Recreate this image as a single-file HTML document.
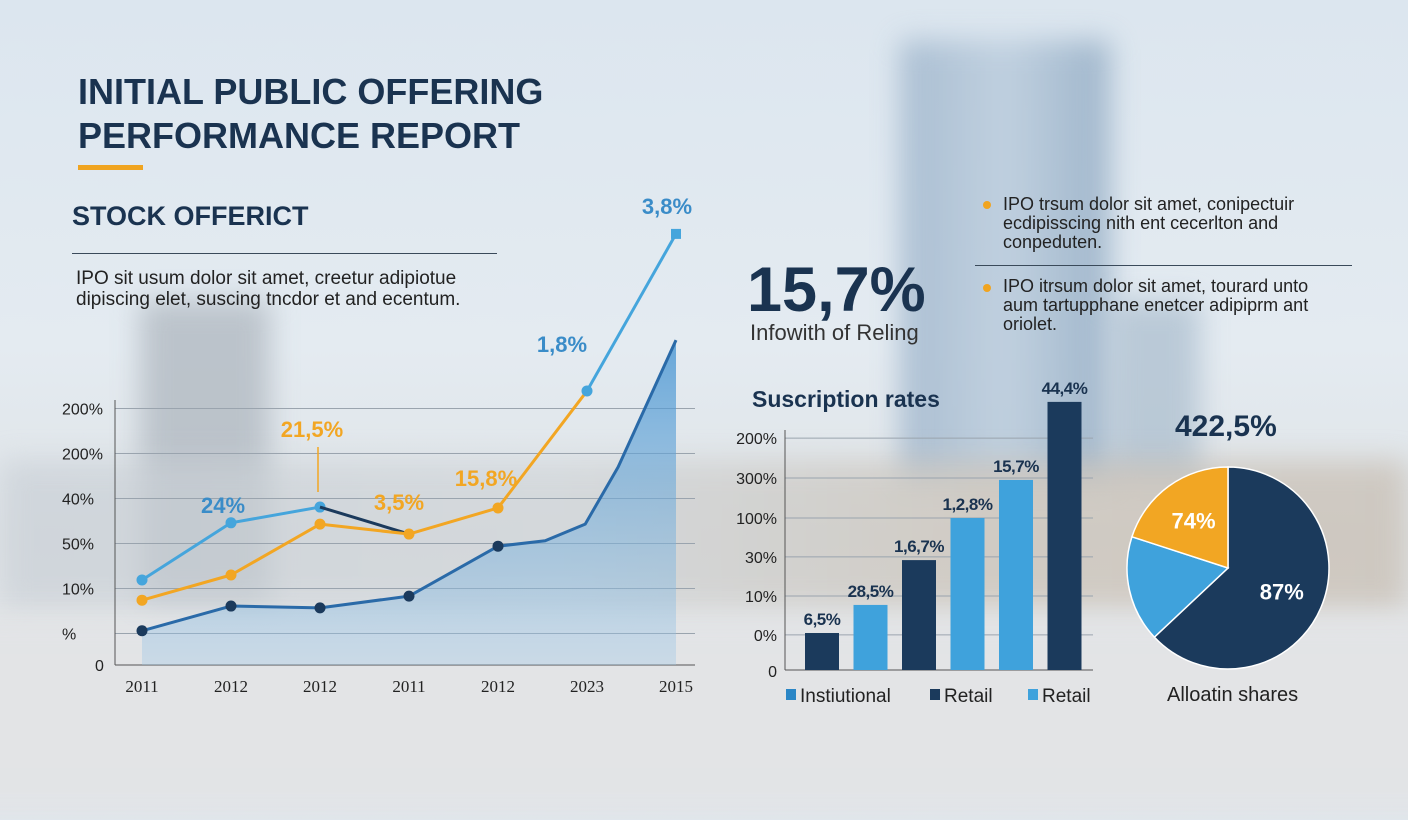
<!DOCTYPE html>
<html><head><meta charset="utf-8">
<style>
html,body{margin:0;padding:0}
body{width:1408px;height:768px;overflow:hidden;position:relative;font-family:"Liberation Sans",sans-serif;background:linear-gradient(180deg,#dce6ef 0%,#e4ebf1 45%,#dfe3e6 70%,#e7e8ea 100%)}
.bg{position:absolute;filter:blur(14px)}
.t{position:absolute;white-space:nowrap}
</style></head><body>
<div class="bg" style="left:900px;top:40px;width:210px;height:440px;background:linear-gradient(90deg,#9db4cb,#b9cbdc 50%,#8fa9c2);opacity:.8"></div>
<div class="bg" style="left:1110px;top:300px;width:90px;height:180px;background:#a9bccd;opacity:.7"></div>
<div class="bg" style="left:140px;top:300px;width:130px;height:300px;background:#b2bac2;opacity:.8"></div>
<div class="bg" style="left:0;top:460px;width:1408px;height:150px;background:linear-gradient(90deg,#c8cfd6,#cfd3d6 40%,#c9bfb2 70%,#c5baad);opacity:.65"></div>
<div class="bg" style="left:-40px;top:620px;width:1488px;height:200px;background:#e3e4e6;opacity:.9"></div>

<div class="t" style="left:78px;top:70px;font-size:36px;font-weight:bold;color:#1a3350;line-height:44px">INITIAL PUBLIC OFFERING<br>PERFORMANCE REPORT</div>
<div style="position:absolute;left:78px;top:165px;width:65px;height:5px;background:#f0a420"></div>
<div class="t" style="left:72px;top:201px;font-size:27px;font-weight:bold;color:#1a3350">STOCK OFFERICT</div>
<div style="position:absolute;left:72px;top:253px;width:425px;height:1px;background:#3a4a5a"></div>
<div class="t" style="left:76px;top:268px;font-size:19px;color:#222;line-height:21px">IPO sit usum dolor sit amet, creetur adipiotue<br>dipiscing elet, suscing tncdor et and ecentum.</div>

<div class="t" style="left:747px;top:254px;font-size:63px;font-weight:bold;color:#1a3350">15,7%</div>
<div class="t" style="left:750px;top:320px;font-size:22px;color:#333">Infowith of Reling</div>

<div style="position:absolute;left:983px;top:201px;width:8px;height:8px;border-radius:50%;background:#f0a420"></div>
<div class="t" style="left:1003px;top:195px;font-size:18px;color:#222;line-height:19px">IPO trsum dolor sit amet, conipectuir<br>ecdipisscing nith ent cecerlton and<br>conpeduten.</div>
<div style="position:absolute;left:975px;top:265px;width:377px;height:1px;background:#3a4a5a"></div>
<div style="position:absolute;left:983px;top:284px;width:8px;height:8px;border-radius:50%;background:#f0a420"></div>
<div class="t" style="left:1003px;top:277px;font-size:18px;color:#222;line-height:19px">IPO itrsum dolor sit amet, tourard unto<br>aum tartupphane enetcer adipiprm ant<br>oriolet.</div>

<div class="t" style="left:752px;top:386px;font-size:23px;font-weight:bold;color:#1a3350">Suscription rates</div>
<div class="t" style="left:1175px;top:410px;font-size:30px;font-weight:bold;color:#1a3350">422,5%</div>
<div class="t" style="left:1167px;top:684px;font-size:20px;color:#222">Alloatin shares</div>

<svg id="chart" width="1408" height="768" style="position:absolute;left:0;top:0"></svg>
<script>
// Line chart data
const lineCats = ["2011","2012","2012","2011","2012","2023","2015"];
const lineTickVals = [7,17,27,37,47,57];
const lineTickLabels = ["%","10%","50%","40%","200%","200%"];
const skyValues = [18.9,31.6,35.1];
const darkSegValues = [35.1,29.1];
const orangeValues = [14.4,20,31.3,29.1,34.9,60.9];
const blueTopValues = [60.9,95.8];
const navyX = [0,1,2,3,4,4.53,4.98,5.35,6];
const navyValues = [7.6,13.1,12.7,15.3,26.4,27.6,31.3,44,72.2];
// Bar chart data
const barVals = [13.7,24.1,40.7,56.3,70.4,99.3];
const barLabels = ["6,5%","28,5%","1,6,7%","1,2,8%","15,7%","44,4%"];
const barKinds = [0,1,0,1,1,0];
const barTickVals = [13,27.4,41.9,56.3,71.1,85.9];
const barTickLabels = ["0%","10%","30%","100%","300%","200%"];
// Pie data
const pieVals = [63,17,20];
const pieLabels = ["87%","","74%"];

const svg = document.getElementById('chart');
const NS = "http://www.w3.org/2000/svg";
function mk(tag, attrs, parent){const e=document.createElementNS(NS,tag);for(const k in attrs)e.setAttribute(k,attrs[k]);(parent||svg).appendChild(e);return e;}
const NAVY="#1b3a5c", SKY="#3d9dd6", ORANGE="#f2a623";

// ---- line chart
const lx = i => 142 + i*89;
const ly = v => 665 - v*4.5;
let g = mk('g',{});


lineTickVals.forEach((v,i)=>{
  const l=mk('line',{x1:115,x2:695,y1:ly(v),y2:ly(v),stroke:"#9aa4ae","stroke-width":1},g);
  
  
  const t=mk('text',{x:62,y:ly(v)+6,"font-size":16,fill:"#222"},g);t.textContent=lineTickLabels[i];
  
  
});
{const t=mk('text',{x:95,y:671,"font-size":16,fill:"#222"},g);t.textContent="0";

}
let ax=mk('line',{x1:115,x2:115,y1:400,y2:665,stroke:"#555"},g);


ax=mk('line',{x1:115,x2:695,y1:665,y2:665,stroke:"#555"},g);


lineCats.forEach((c,i)=>{
  const t=mk('text',{x:lx(i),y:692,"font-size":17,fill:"#222","text-anchor":"middle","font-family":"Liberation Serif"},g);t.textContent=c;
  
  
});
let d="M"+lx(navyX[0])+","+ly(navyValues[0]);
navyX.forEach((x,i)=>{d+=" L"+lx(x)+","+ly(navyValues[i]);});
const defs=mk('defs',{});
const gr=mk('linearGradient',{id:"ag",x1:0,y1:0,x2:0,y2:1},defs);
mk('stop',{offset:"0","stop-color":"#3d8fd0","stop-opacity":"0.75"},gr);
mk('stop',{offset:"1","stop-color":"#9cc6e6","stop-opacity":"0.35"},gr);
let area=mk('path',{d:d+" L"+lx(6)+",665 L"+lx(0)+",665 Z",fill:"url(#ag)"},g);


function poly(xs,vals,color,name,dots){
  const p=mk('polyline',{points:xs.map((x,i)=>lx(x)+","+ly(vals[i])).join(" "),fill:"none",stroke:color,"stroke-width":3,"stroke-linejoin":"round"},g);
  
  
  (dots||[]).forEach(i=>{
    const c=mk('circle',{cx:lx(xs[i]),cy:ly(vals[i]),r:5.5,fill:color},g);
    
    
  });
}
poly(navyX,navyValues,"#2a6aa8","navy-line",[]);
[0,1,2,3,4].forEach(i=>{const c=mk('circle',{cx:lx(navyX[i]),cy:ly(navyValues[i]),r:5.5,fill:NAVY},g);

});
poly([0,1,2],skyValues,"#45a5dc","sky-line",[0,1,2]);
poly([2,3],darkSegValues,NAVY,"dark-segment",[]);
poly([0,1,2,3,4,5],orangeValues,ORANGE,"orange-line",[0,1,2,3,4]);
poly([5,6],blueTopValues,"#45a5dc","blue-top-line",[0]);
{const r=mk('rect',{x:lx(6)-5,y:ly(blueTopValues[1])-5,width:10,height:10,fill:"#45a5dc"},g);

}
{const l=mk('line',{x1:318,x2:318,y1:447,y2:492,stroke:ORANGE,"stroke-width":1.5},g);

}
[["24%",223,513,"#3a8cc8"],["21,5%",312,437,ORANGE],["3,5%",399,510,ORANGE],["15,8%",486,486,ORANGE],["1,8%",562,352,"#3a8cc8"],["3,8%",667,214,"#3a8cc8"]].forEach(a=>{
  const t=mk('text',{x:a[1],y:a[2],"font-size":22,"font-weight":"bold",fill:a[3],"text-anchor":"middle"},g);t.textContent=a[0];
  
  
});

// ---- bar chart
const bx = i => 822 + i*48.5;
const by = v => 670 - v*2.7;
const bg2 = mk('g',{});


barTickVals.forEach((v,i)=>{
  const l=mk('line',{x1:785,x2:1093,y1:by(v),y2:by(v),stroke:"#9aa4ae"},bg2);
  
  
  const t=mk('text',{x:777,y:by(v)+6,"font-size":16,fill:"#222","text-anchor":"end"},bg2);t.textContent=barTickLabels[i];
  
  
});
{const t=mk('text',{x:777,y:677,"font-size":16,fill:"#222","text-anchor":"end"},bg2);t.textContent="0";

}
ax=mk('line',{x1:785,x2:785,y1:430,y2:670,stroke:"#555"},bg2);


ax=mk('line',{x1:785,x2:1093,y1:670,y2:670,stroke:"#555"},bg2);


barVals.forEach((v,i)=>{
  const r=mk('rect',{x:bx(i)-17,y:by(v),width:34,height:670-by(v),fill:barKinds[i]?"#3fa2dc":NAVY},bg2);
  
  
  const t=mk('text',{x:bx(i),y:by(v)-8,"font-size":17,"font-weight":"bold",fill:"#1a3350","text-anchor":"middle","letter-spacing":"-0.5"},bg2);t.textContent=barLabels[i];
  
  
});
[["Instiutional",786,"#2a86c6"],["Retail",930,NAVY],["Retail",1028,"#3fa2dc"]].forEach(a=>{
  const r=mk('rect',{x:a[1],y:689,width:10,height:11,fill:a[2]},bg2);
  
  
  const t=mk('text',{x:a[1]+14,y:702,"font-size":19,fill:"#222"},bg2);t.textContent=a[0];
  
  
});

// ---- pie
const cx=1228, cy=568, R=101;
const pg=mk('g',{});


const total=pieVals.reduce((a,b)=>a+b,0);
const pieColors=[NAVY,"#3fa2dc",ORANGE];
let a0=0;
pieVals.forEach((v,i)=>{
  const a1=a0+v/total*2*Math.PI;
  const p=(a)=>[cx+R*Math.sin(a),cy-R*Math.cos(a)];
  const s=p(a0), e=p(a1);
  const path=mk('path',{d:`M${cx},${cy} L${s[0]},${s[1]} A${R},${R} 0 ${a1-a0>Math.PI?1:0} 1 ${e[0]},${e[1]} Z`,fill:pieColors[i],stroke:"#fff","stroke-width":1.5},pg);
  
  
  if(pieLabels[i]){
    const m=(a0+a1)/2, rr=R*0.58;
    const t=mk('text',{x:cx+rr*Math.sin(m),y:cy-rr*Math.cos(m)+8,"font-size":22,"font-weight":"bold",fill:"#fff","text-anchor":"middle"},pg);t.textContent=pieLabels[i];
    
    
  }
  a0=a1;
});
</script>
</body></html>
